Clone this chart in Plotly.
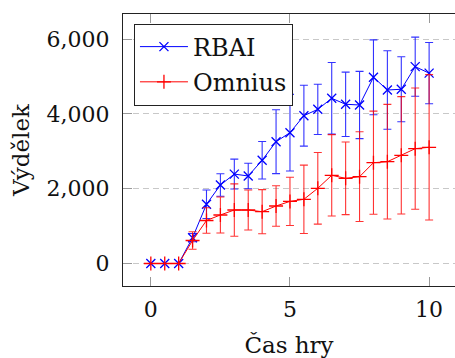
import plotly.graph_objects as go

# Game time (x) and average earnings with standard deviation for both agents
cas_hry = [0, 0.5, 1, 1.5, 2, 2.5, 3, 3.5, 4, 4.5, 5, 5.5, 6, 6.5, 7, 7.5, 8, 8.5, 9, 9.5, 10]

rbai_mean = [0, 0, 0, 690, 1583, 2099, 2390, 2340, 2760, 3257, 3497, 3952, 4122, 4417,
             4257, 4238, 4979, 4639, 4658, 5263, 5090]
rbai_sd = [0, 0, 0, 110, 382, 300, 400, 340, 500, 855, 1024, 815, 672, 957,
           860, 900, 1000, 1050, 870, 790, 820]

omnius_mean = [0, 0, 0, 615, 1150, 1297, 1430, 1430, 1385, 1537, 1660, 1716, 2011, 2358,
               2277, 2321, 2695, 2722, 2893, 3070, 3107]
omnius_sd = [0, 0, 0, 235, 340, 480, 700, 535, 590, 540, 645, 915, 958, 1088,
             970, 1200, 1380, 1532, 1569, 1621, 1944]

y_ticks = [0, 2000, 4000, 6000]
x_ticks = [0, 5, 10]

FONT = "DejaVu Serif"
FS_TICK = 22
FS_TITLE = 23
FS_LEGEND = 24

fig = go.Figure()

fig.add_trace(go.Scatter(
    x=cas_hry, y=rbai_mean, name="RBAI", mode="lines+markers", legendgroup="rbai",
    line=dict(color="#0000ff", width=1),
    marker=dict(symbol="x-thin", size=9, line=dict(color="#0000ff", width=1.3)),
    error_y=dict(type="data", array=rbai_sd, visible=True,
                 color="rgba(0,0,255,0.8)", thickness=1.1, width=4),
))

fig.add_trace(go.Scatter(
    x=cas_hry, y=omnius_mean, name="Omnius", mode="lines+markers", legendgroup="omnius",
    line=dict(color="#ff0000", width=1),
    marker=dict(symbol="cross-thin", size=10, line=dict(color="#ff0000", width=1.3)),
    error_y=dict(type="data", array=omnius_sd, visible=True,
                 color="rgba(255,0,0,0.8)", thickness=1.1, width=4),
))

fig.update_layout(
    width=455, height=358,
    margin=dict(l=123, r=0, t=14, b=72, autoexpand=False),
    paper_bgcolor="white", plot_bgcolor="white",
    font=dict(family=FONT, size=FS_TICK, color="#111"),
    showlegend=True,
    legend=dict(
        x=0.033, y=0.965, xanchor="left", yanchor="top",
        bgcolor="white", bordercolor="#222", borderwidth=1,
        font=dict(family=FONT, size=FS_LEGEND, color="#111"),
        itemwidth=48, tracegroupgap=1,
    ),
)

fig.update_xaxes(
    range=[-1, 10.93], tickvals=x_ticks, ticktext=[str(v) for v in x_ticks],
    tickfont=dict(family=FONT, size=FS_TICK),
    showgrid=False, zeroline=False,
    showline=True, linecolor="#222", linewidth=1, mirror="ticks",
    ticks="inside", ticklen=9, tickcolor="#999", tickwidth=1,
    ticklabelstandoff=4,
    title=dict(text="Čas hry", font=dict(family=FONT, size=FS_TITLE), standoff=16),
)

fig.update_yaxes(
    range=[-602, 6671], tickvals=y_ticks, tickformat=",d",
    tickfont=dict(family=FONT, size=FS_TICK),
    showgrid=True, gridcolor="#c8c8c8", gridwidth=1, griddash="6px,4px",
    zeroline=False,
    showline=True, linecolor="#222", linewidth=1, mirror=False,
    ticks="inside", ticklen=9, tickcolor="#999", tickwidth=1,
    ticklabelstandoff=8,
    title=dict(text="Výdělek", font=dict(family=FONT, size=FS_TITLE), standoff=10),
)

fig.write_html("out.html")
